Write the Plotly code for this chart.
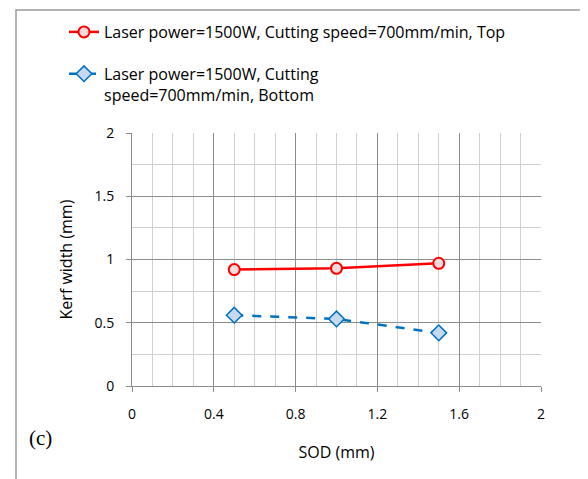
import plotly.graph_objects as go

sod = [0.5, 1.0, 1.5]
kerf_top = [0.92, 0.93, 0.97]
kerf_bottom = [0.56, 0.53, 0.42]
name_top = "Laser power=1500W, Cutting speed=700mm/min, Top"
name_bottom = "Laser power=1500W, Cutting<br>speed=700mm/min, Bottom"
x_ticks = [0, 0.4, 0.8, 1.2, 1.6, 2]
y_ticks = [0, 0.5, 1, 1.5, 2]

FONT = "'Open Sans', sans-serif"

# page body has an 8px offset; plot area target (viewport): x 132..541, y 133..386
OFF = 8
L, R, T, B = 132 - OFF, 541 - OFF, 133 - OFF, 386 - OFF
W, H = R - L, B - T

def px(xv):
    return (xv - OFF - L) / W

def py(yv):
    return (B - (yv - OFF)) / H

fig = go.Figure()
fig.add_trace(go.Scatter(
    x=sod, y=kerf_top, name=name_top, mode="lines+markers", legendgroup="a",
    line=dict(color="#ff0000", width=2.5),
    marker=dict(symbol="circle", size=11, color="#f2dcdb",
                line=dict(color="#ff0000", width=2)),
))
fig.add_trace(go.Scatter(
    x=sod, y=kerf_bottom, name=name_bottom, mode="lines+markers", legendgroup="b",
    line=dict(color="#0070c0", width=2.5, dash="dash"),
    marker=dict(symbol="diamond", size=12, color="#c6d9f1",
                line=dict(color="#0070c0", width=1.5)),
))

fig.update_layout(
    width=588, height=479,
    margin=dict(l=L, r=588 - R, t=T, b=479 - B, autoexpand=False),
    paper_bgcolor="white", plot_bgcolor="white",
    font=dict(family=FONT, size=14, color="#000"),
    showlegend=True,
    legend=dict(x=px(64), xanchor="left", y=py(15), yanchor="top",
                font=dict(size=16, family=FONT), valign="top",
                tracegroupgap=18, bgcolor="rgba(0,0,0,0)"),
    xaxis=dict(range=[0, 2], tickvals=x_ticks, ticktext=[str(v) for v in x_ticks],
               showgrid=True, gridcolor="#8c8c8c", gridwidth=1,
               minor=dict(dtick=0.1, showgrid=True, gridcolor="#d0d0d0", gridwidth=1),
               showline=True, linecolor="#8c8c8c", linewidth=1,
               ticks="outside", ticklen=5, tickcolor="#8c8c8c",
               ticklabelstandoff=10,
               zeroline=False, tickfont=dict(size=14),
               title=dict(text="SOD (mm)", font=dict(size=16), standoff=25)),
    yaxis=dict(range=[0, 2], tickvals=y_ticks, ticktext=[str(v) for v in y_ticks],
               showgrid=True, gridcolor="#8c8c8c", gridwidth=1,
               minor=dict(dtick=0.25, showgrid=True, gridcolor="#d0d0d0", gridwidth=1),
               showline=True, linecolor="#8c8c8c", linewidth=1,
               ticks="outside", ticklen=5, tickcolor="#8c8c8c",
               ticklabelstandoff=9,
               zeroline=False, tickfont=dict(size=14),
               title=dict(text="Kerf width (mm)", font=dict(size=16), standoff=17)),
)

# outer chart border
fig.add_shape(type="rect", xref="paper", yref="paper",
              x0=px(16), x1=px(585), y0=py(520), y1=py(10),
              line=dict(color="#9a9a9a", width=1.5), layer="below")

fig.add_annotation(text="(c)", xref="paper", yref="paper",
                   x=px(40), y=py(438), xanchor="center", yanchor="middle",
                   showarrow=False, font=dict(family="'Liberation Serif', serif", size=21))

fig.write_html("out.html")
